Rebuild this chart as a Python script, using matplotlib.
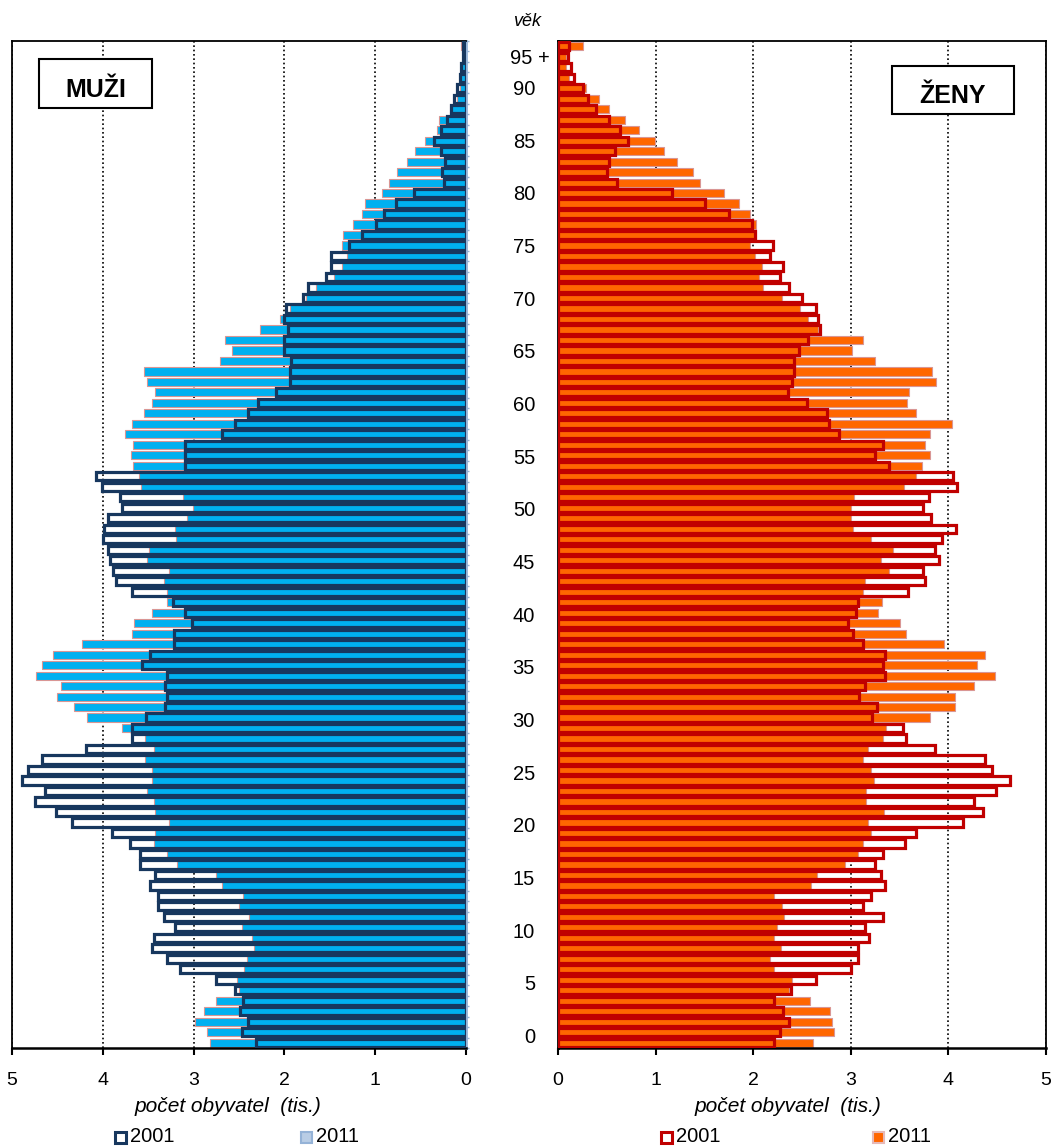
import numpy as np
import matplotlib
matplotlib.use('Agg')
import matplotlib.pyplot as plt
from matplotlib.patches import Rectangle
from matplotlib.transforms import blended_transform_factory

plt.rcParams['font.family'] = ['Liberation Sans', 'DejaVu Sans']

# vek 0 .. 95+ , pocet obyvatel v tisicich
ages = np.arange(96)
age_ticks = list(range(0, 91, 5))
age_labels = [str(a) for a in age_ticks]
x_ticks = [0, 1, 2, 3, 4, 5]

muzi_2001 = [2.31, 2.47, 2.40, 2.49, 2.46, 2.54, 2.75, 3.15, 3.29, 3.46,
             3.44, 3.21, 3.33, 3.39, 3.39, 3.48, 3.42, 3.59, 3.59, 3.70,
             3.90, 4.34, 4.52, 4.75, 4.64, 4.89, 4.82, 4.67, 4.19, 3.68,
             3.68, 3.52, 3.31, 3.29, 3.31, 3.29, 3.57, 3.48, 3.22, 3.22,
             3.02, 3.09, 3.23, 3.68, 3.86, 3.89, 3.92, 3.94, 4.00, 3.99,
             3.94, 3.79, 3.81, 4.01, 4.07, 3.09, 3.09, 3.09, 2.69, 2.54,
             2.40, 2.29, 2.09, 1.94, 1.94, 1.93, 2.00, 2.00, 1.96, 2.00,
             1.98, 1.79, 1.74, 1.54, 1.49, 1.49, 1.29, 1.14, 0.99, 0.90,
             0.77, 0.57, 0.24, 0.26, 0.23, 0.27, 0.35, 0.27, 0.21, 0.17,
             0.13, 0.10, 0.07, 0.05, 0.03, 0.03]
muzi_2011 = [2.82, 2.85, 2.98, 2.89, 2.75, 2.50, 2.52, 2.45, 2.41, 2.34,
             2.36, 2.47, 2.39, 2.50, 2.46, 2.69, 2.75, 3.18, 3.29, 3.44,
             3.42, 3.27, 3.42, 3.44, 3.51, 3.46, 3.46, 3.54, 3.44, 3.54,
             3.79, 4.17, 4.32, 4.50, 4.46, 4.74, 4.67, 4.55, 4.23, 3.68,
             3.66, 3.46, 3.29, 3.29, 3.33, 3.27, 3.51, 3.49, 3.19, 3.21,
             3.07, 3.01, 3.12, 3.58, 3.60, 3.67, 3.69, 3.67, 3.75, 3.68,
             3.55, 3.46, 3.42, 3.51, 3.55, 2.71, 2.58, 2.65, 2.27, 2.05,
             1.94, 1.76, 1.65, 1.45, 1.37, 1.31, 1.37, 1.35, 1.24, 1.15,
             1.11, 0.93, 0.85, 0.76, 0.65, 0.56, 0.45, 0.32, 0.30, 0.18,
             0.10, 0.07, 0.05, 0.04, 0.03, 0.05]
zeny_2001 = [2.21, 2.27, 2.37, 2.31, 2.21, 2.39, 2.64, 3.00, 3.07, 3.07,
             3.19, 3.15, 3.33, 3.13, 3.21, 3.35, 3.31, 3.25, 3.33, 3.56,
             3.67, 4.15, 4.35, 4.26, 4.49, 4.63, 4.45, 4.37, 3.86, 3.57,
             3.53, 3.22, 3.27, 3.08, 3.15, 3.35, 3.33, 3.35, 3.13, 3.02,
             2.97, 3.05, 3.07, 3.59, 3.76, 3.74, 3.90, 3.86, 3.93, 4.08,
             3.82, 3.74, 3.80, 4.09, 4.05, 3.39, 3.25, 3.33, 2.88, 2.78,
             2.76, 2.55, 2.36, 2.40, 2.42, 2.42, 2.47, 2.56, 2.68, 2.66,
             2.64, 2.50, 2.37, 2.27, 2.31, 2.17, 2.20, 2.02, 1.99, 1.75,
             1.51, 1.17, 0.60, 0.50, 0.52, 0.58, 0.72, 0.64, 0.52, 0.39,
             0.31, 0.26, 0.16, 0.13, 0.10, 0.11]
zeny_2011 = [2.61, 2.83, 2.81, 2.79, 2.58, 2.37, 2.40, 2.21, 2.17, 2.28,
             2.21, 2.24, 2.32, 2.30, 2.21, 2.59, 2.65, 2.94, 3.07, 3.12,
             3.21, 3.18, 3.34, 3.16, 3.16, 3.24, 3.21, 3.12, 3.18, 3.33,
             3.36, 3.81, 4.07, 4.07, 4.26, 4.48, 4.29, 4.38, 3.96, 3.57,
             3.50, 3.28, 3.32, 3.12, 3.15, 3.39, 3.31, 3.43, 3.21, 3.02,
             3.00, 3.00, 3.03, 3.55, 3.67, 3.73, 3.81, 3.76, 3.81, 4.04,
             3.67, 3.58, 3.60, 3.87, 3.83, 3.25, 3.01, 3.13, 2.66, 2.56,
             2.48, 2.30, 2.10, 2.06, 2.09, 2.02, 1.97, 2.03, 2.03, 1.97,
             1.85, 1.70, 1.46, 1.38, 1.22, 1.09, 0.99, 0.83, 0.69, 0.52,
             0.42, 0.29, 0.11, 0.08, 0.08, 0.26]

W, H = 1051, 1146
fig = plt.figure(figsize=(W / 100, H / 100), dpi=100)


def fx(px):
    return px / W


def fy(py):
    return 1 - py / H


top, bottom = 41, 1048
ax_m = fig.add_axes([fx(12), fy(bottom), fx(466 - 12), (bottom - top) / H])
ax_z = fig.add_axes([fx(558), fy(bottom), fx(1046 - 558), (bottom - top) / H])

bh = 0.78
ax_m.barh(ages, muzi_2011, height=bh, color='#00B0F0', edgecolor='#D99694',
          linewidth=0.8, zorder=2)
ax_m.barh(ages, muzi_2001, height=bh, facecolor='none', edgecolor='#17375E',
          linewidth=2.3, zorder=3)
ax_z.barh(ages, zeny_2011, height=bh, color='#FF6600', edgecolor='#D99694',
          linewidth=0.8, zorder=2)
ax_z.barh(ages, zeny_2001, height=bh, facecolor='none', edgecolor='#C00000',
          linewidth=2.3, zorder=3)

for ax in (ax_m, ax_z):
    ax.set_ylim(-0.5, 95.5)
    ax.set_xticks(x_ticks)
    ax.set_xticklabels([str(t) for t in x_ticks])
    ax.tick_params(axis='x', direction='out', length=5, width=1.5,
                   labelsize=14, pad=12.5)
    ax.xaxis.grid(True, linestyle=(0, (1, 1.6)), color='black', linewidth=1.2)
    ax.set_axisbelow(True)
    ax.spines['bottom'].set_linewidth(1.8)
    for s in ('top', 'left', 'right'):
        ax.spines[s].set_linewidth(1.3)

ax_m.set_xlim(5, 0)
ax_z.set_xlim(0, 5)

# osa u nuly u muzu - svetle modra s drobnymi carkami
ax_m.spines['right'].set_color('#95B3D7')
ax_m.spines['right'].set_linewidth(2)
ax_m.set_yticks(np.arange(-0.5, 96, 1))
ax_m.tick_params(axis='y', left=False, right=True, labelleft=False,
                 direction='inout', length=4, color='#95B3D7', width=1)
ax_z.set_yticks([])
ax_z.spines['left'].set_linewidth(2)

# popisky veku mezi grafy
tr = blended_transform_factory(fig.transFigure, ax_m.transData)
for k, lab in zip(age_ticks, age_labels):
    fig.text(fx(535), k + 0.5 + 0.004 * k, lab, transform=tr, ha='right',
             va='center', fontsize=14.5)
fig.text(fx(550), 93.85, '95 +', transform=tr, ha='right', va='center',
         fontsize=14.5)
fig.text(fx(527), fy(22), 'věk', ha='center', va='center', fontsize=13,
         style='italic')

# popisky os
fig.text(fx(228), fy(1107), 'počet obyvatel  (tis.)', ha='center',
         va='center', fontsize=15, style='italic')
fig.text(fx(788), fy(1107), 'počet obyvatel  (tis.)', ha='center',
         va='center', fontsize=15, style='italic')

# ramecky MUZI / ZENY
for (x0, y0, x1, y1, txt) in [(39, 59, 152, 108, 'MUŽI'),
                              (892, 66, 1014, 114, 'ŽENY')]:
    fig.patches.append(Rectangle((fx(x0), fy(y1)), fx(x1 - x0), (y1 - y0) / H,
                                 transform=fig.transFigure, facecolor='white',
                                 edgecolor='black', linewidth=1.5, zorder=5))
    fig.text(fx((x0 + x1) / 2), fy(y1 - 11), txt, ha='center',
             va='baseline', fontsize=18, fontweight='bold', zorder=6)

# legendy
leg = [(115, 'white', '#17375E', 2.2, '2001'),
       (301, '#B9CDE5', '#95B3D7', 1.5, '2011'),
       (661, 'white', '#C00000', 2.2, '2001'),
       (873, '#FF6600', '#E6B9B8', 1.5, '2011')]
for x0, fc, ec, lw, txt in leg:
    fig.patches.append(Rectangle((fx(x0), fy(1143)), fx(11), 11 / H,
                                 transform=fig.transFigure, facecolor=fc,
                                 edgecolor=ec, linewidth=lw))
    fig.text(fx(x0 + 15), fy(1137), txt, ha='left', va='center',
             fontsize=14.5)

fig.savefig('out.png', dpi=100)
